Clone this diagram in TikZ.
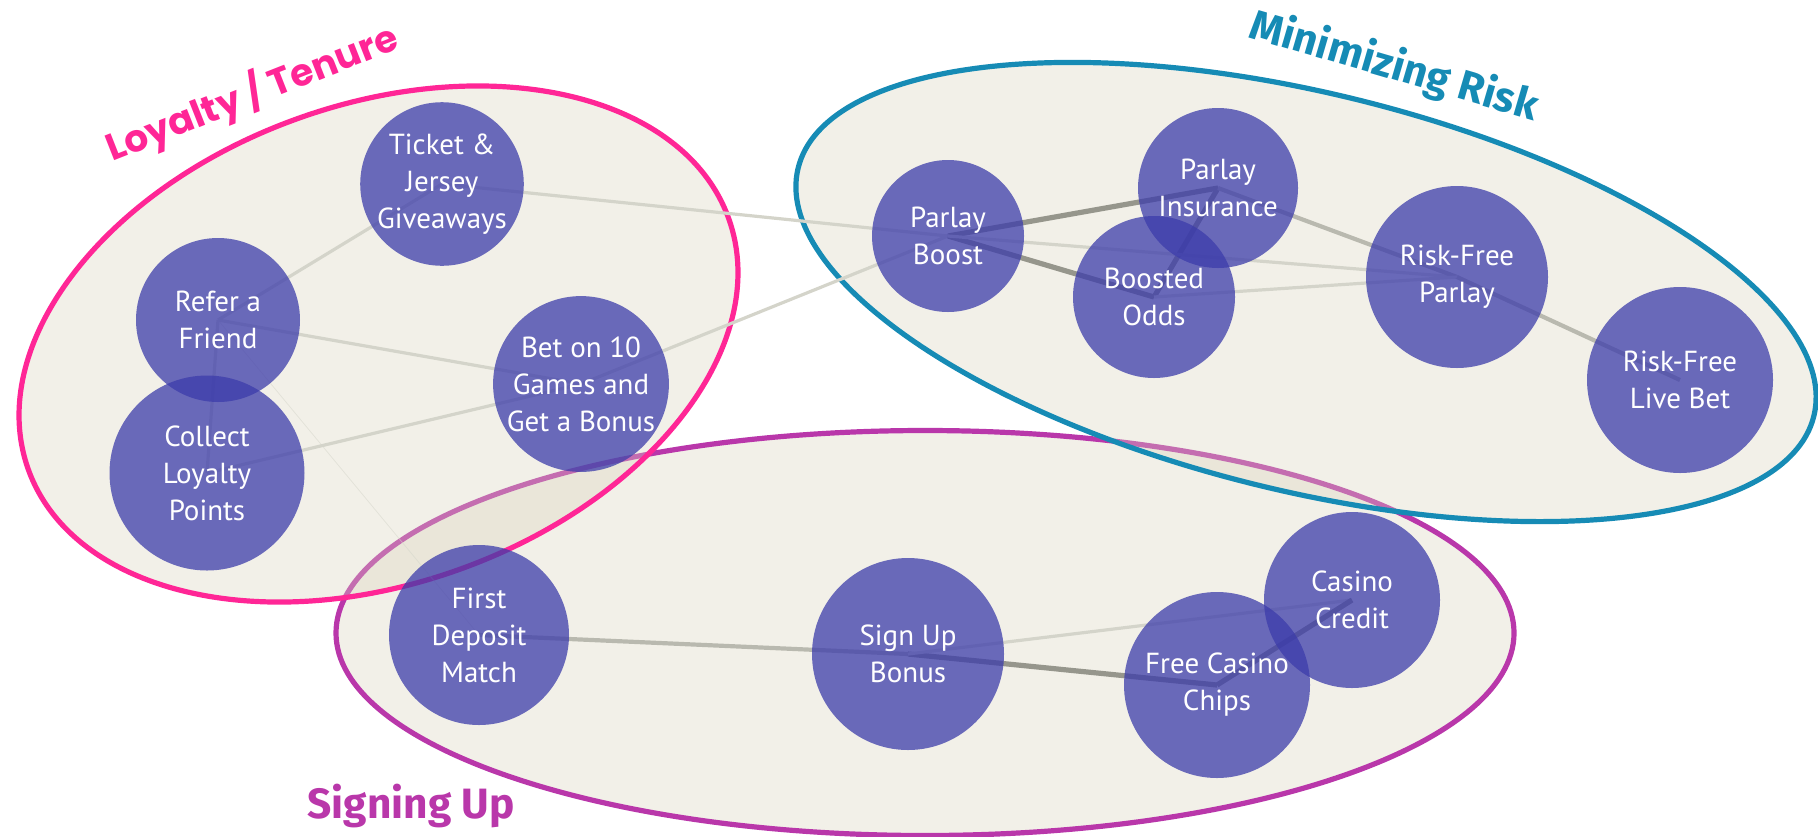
\documentclass[tikz,border=0pt]{standalone}
\usepackage{fontspec}
\setmainfont{PT Sans}
\newfontfamily\loyalfont{Poppins}
\newfontfamily\headfont{Fira Sans}
\definecolor{bubble}{RGB}{60,60,170}
\definecolor{tenure}{RGB}{255,38,150}
\definecolor{risk}{RGB}{22,139,181}
\definecolor{signing}{RGB}{185,55,170}
\definecolor{sand}{RGB}{218,212,189}
\definecolor{tiedark}{RGB}{150,150,140}
\definecolor{tiemid}{RGB}{185,185,175}
\definecolor{tielight}{RGB}{212,212,202}
\begin{document}
\begin{tikzpicture}[
    x=0.5pt, y=-0.5pt,
    group/.style = {line width=2.6pt, draw=#1, fill=sand, fill opacity=0.35, draw opacity=1},
    bub/.style = {circle, inner sep=0pt, fill=bubble, fill opacity=0.75, text opacity=1,
        text=white, align=center, minimum size=#1, font=\fontsize{14.5}{18.5}\selectfont},
    strong/.style = {line width=2.6pt, draw=tiedark},
    mid/.style = {line width=2.1pt, draw=tiemid},
    weak/.style = {line width=1.6pt, draw=tielight},
    faint/.style = {line width=0.4pt, draw=tielight, draw opacity=0.5},
    every node/.style={font=\fontsize{14.5}{18.5}\selectfont}
]
    \useasboundingbox (0,0) rectangle (1818,836);

    \draw[group=signing] (925,633) ellipse [x radius=294.5pt, y radius=101.25pt];
    \draw[group=tenure, rotate around={19.7:(378.5,344)}] (378.5,344) ellipse [x radius=186pt, y radius=119.75pt];
    \draw[group=risk, rotate around={-13.7:(1306,292)}] (1306,292) ellipse [x radius=261.4pt, y radius=99.5pt];

    \coordinate (tktc) at (442,184);
    \coordinate (referc) at (218,320);
    \coordinate (collectc) at (207,473);
    \coordinate (betc) at (581,384);
    \coordinate (boostc) at (948,236);
    \coordinate (insurc) at (1218,188);
    \coordinate (oddsc) at (1154,297);
    \coordinate (rfpc) at (1457,277);
    \coordinate (livec) at (1680,380);
    \coordinate (depc) at (479,635);
    \coordinate (signc) at (908,654);
    \coordinate (chipsc) at (1217,685);
    \coordinate (creditc) at (1352,600);

    \draw[weak] (referc) -- (tktc);
    \draw[weak] (referc) -- (betc);
    \draw[weak] (referc) -- (collectc);
    \draw[weak] (collectc) -- (betc);
    \draw[faint] (referc) -- (depc);
    \draw[weak] (tktc) -- (boostc);
    \draw[weak] (betc) -- (boostc);
    \draw[strong] (boostc) -- (insurc);
    \draw[strong] (boostc) -- (oddsc);
    \draw[strong] (insurc) -- (oddsc);
    \draw[weak] (boostc) -- (rfpc);
    \draw[mid] (insurc) -- (rfpc);
    \draw[weak] (oddsc) -- (rfpc);
    \draw[mid] (rfpc) -- (livec);
    \draw[mid] (depc) -- (signc);
    \draw[strong] (signc) -- (chipsc);
    \draw[weak] (signc) -- (creditc);
    \draw[strong] (chipsc) -- (creditc);

    \node[bub=158pt*0.5] (tkt) at (tktc) {Ticket \&\\Jersey\\Giveaways};
    \node[bub=164pt*0.5] (refer) at (referc) {Refer a\\Friend};
    \node[bub=195pt*0.5] (collect) at (collectc) {Collect\\Loyalty\\Points};
    \node[bub=166pt*0.5] (bet) at (betc) {Bet on 10\\Games and\\Get a Bonus};
    \node[bub=152pt*0.5] (boost) at (boostc) {Parlay\\Boost};
    \node[bub=160pt*0.5] (insur) at (insurc) {Parlay\\Insurance};
    \node[bub=162pt*0.5] (odds) at (oddsc) {Boosted\\Odds};
    \node[bub=182pt*0.5] (rfp) at (rfpc) {Risk-Free\\Parlay};
    \node[bub=186pt*0.5] (live) at (livec) {Risk-Free\\Live Bet};
    \node[bub=180pt*0.5] (dep) at (depc) {First\\Deposit\\Match};
    \node[bub=192pt*0.5] (sign) at (signc) {Sign Up\\Bonus};
    \node[bub=186pt*0.5] (chips) at (chipsc) {Free Casino\\Chips};
    \node[bub=176pt*0.5] (credit) at (creditc) {Casino\\Credit};

    \node[text=tenure, rotate=21.5, font=\loyalfont\bfseries\fontsize{18.8}{22}\selectfont] (tenurelbl) at (252,93) {Loyalty / Tenure};
    \node[text=risk, rotate=-16.3, font=\headfont\bfseries\fontsize{21}{24}\selectfont] (risklbl) at (1394,67) {Minimizing Risk};
    \node[text=signing, font=\headfont\bfseries\fontsize{21.2}{24}\selectfont] (signlbl) at (411,806) {Signing Up};
\end{tikzpicture}
\end{document}
